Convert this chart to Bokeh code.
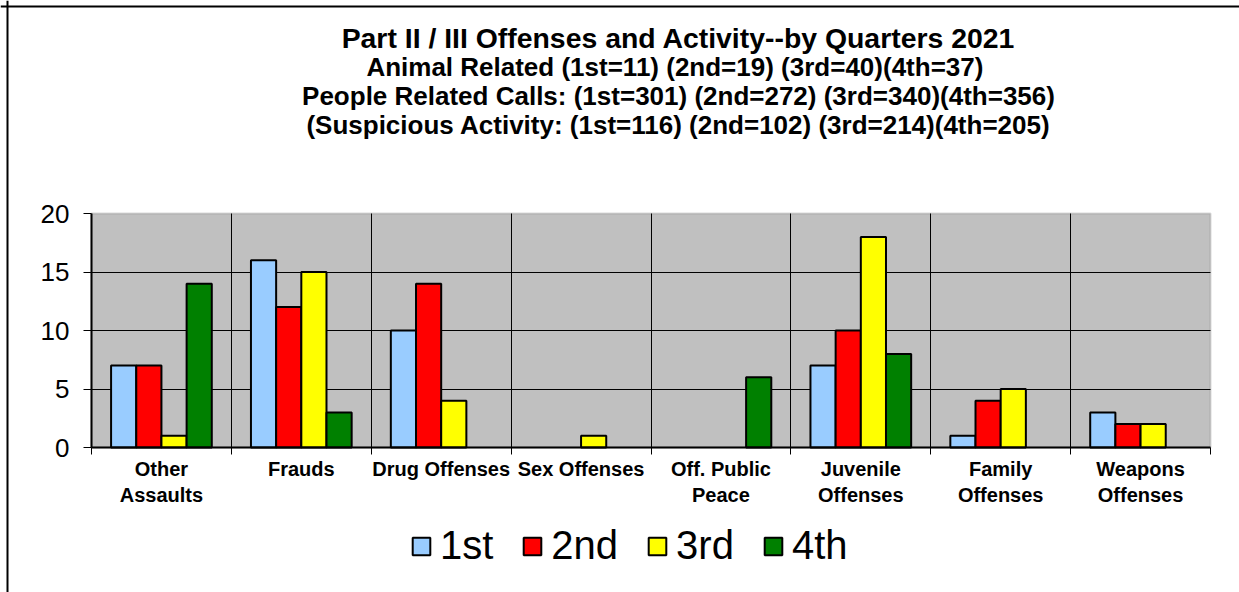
from bokeh.plotting import figure
from bokeh.models import (Range1d, FixedTicker, Legend, LegendItem, ColumnDataSource,
                          BoxAnnotation, Label, Span)
from bokeh.embed import file_html
from bokeh.resources import INLINE

categories = ["Other\nAssaults", "Frauds", "Drug Offenses", "Sex Offenses",
              "Off. Public\nPeace", "Juvenile\nOffenses", "Family\nOffenses", "Weapons\nOffenses"]
q1 = [7, 16, 10, 0, 0, 7, 1, 3]
q2 = [7, 12, 14, 0, 0, 10, 4, 2]
q3 = [1, 15, 4, 1, 0, 18, 5, 2]
q4 = [14, 3, 0, 0, 6, 8, 0, 0]
series = [q1, q2, q3, q4]
series_names = ["1st", "2nd", "3rd", "4th"]
colors = ["#99CCFF", "#FF0000", "#FFFF00", "#008000"]
y_ticks = [0, 5, 10, 15, 20]
title_lines = [
    "Part II / III Offenses and Activity--by Quarters 2021",
    "Animal Related  (1st=11) (2nd=19) (3rd=40)(4th=37)",
    "People Related Calls: (1st=301) (2nd=272) (3rd=340)(4th=356)",
    "(Suspicious Activity: (1st=116) (2nd=102) (3rd=214)(4th=205)",
]

FONT = "Liberation Sans"
n = len(categories)
bar_w = 0.18
W, H = 1239, 592
# pixel placement of the plotting box inside the canvas (layout only)
PX_L, PX_R, PX_T, PX_B = 91, 1210, 213, 447
ymin, ymax = y_ticks[0], y_ticks[-1]
xs_per_px = n / (PX_R - PX_L)
ys_per_px = (ymax - ymin) / (PX_B - PX_T)
x_lo = 0.5 - PX_L * xs_per_px
x_hi = n + 0.5 + (W - PX_R) * xs_per_px
y_lo = ymin - (H - PX_B) * ys_per_px
y_hi = ymax + PX_T * ys_per_px

p = figure(width=W, height=H, output_backend="svg", toolbar_location=None,
           x_range=Range1d(x_lo, x_hi), y_range=Range1d(y_lo, y_hi), title=None,
           min_border=0, min_border_left=0, min_border_right=0, min_border_top=0, min_border_bottom=0)
p.background_fill_color = "white"
p.border_fill_color = "white"
p.outline_line_color = None

p.add_layout(BoxAnnotation(left=0.5, right=n + 0.5, bottom=ymin, top=ymax,
                           fill_color="#C0C0C0", fill_alpha=1.0,
                           line_color="#808080", line_width=2, level="image"))

xg = p.xgrid[0]
yg = p.ygrid[0]
xg.ticker = FixedTicker(ticks=[i + 1.5 for i in range(n - 1)])
yg.ticker = FixedTicker(ticks=y_ticks[1:-1])
for g in (xg, yg):
    g.grid_line_color = "black"
    g.grid_line_width = 1
    g.level = "underlay"
has_cross = hasattr(xg, "cross_bounds")
if has_cross:
    xg.cross_bounds = (ymin, ymax)
    yg.cross_bounds = (0.5, n + 0.5)
else:
    xg.visible = False
    yg.visible = False
    bx = [i + 1.5 for i in range(n - 1)]
    p.segment(x0=bx, x1=bx, y0=[ymin] * len(bx), y1=[ymax] * len(bx), line_color="black", line_width=1)
    gy = y_ticks[1:-1]
    p.segment(x0=[0.5] * len(gy), x1=[n + 0.5] * len(gy), y0=gy, y1=gy, line_color="black", line_width=1)

renderers = []
for j, (vals, c) in enumerate(zip(series, colors)):
    xs = [i + 1 + (j - 1.5) * bar_w for i, v in enumerate(vals) if v > 0]
    tops = [v for v in vals if v > 0]
    src = ColumnDataSource(dict(x=xs, top=tops))
    r = p.vbar(x="x", top="top", bottom=0, width=bar_w, source=src,
               fill_color=c, line_color="black", line_width=2)
    renderers.append(r)

xa = p.xaxis[0]
xa.fixed_location = ymin
xa.bounds = (0.5, n + 0.5)
xa.ticker = FixedTicker(ticks=list(range(1, n + 1)), minor_ticks=[i + 0.5 for i in range(n + 1)])
xa.major_label_overrides = {i + 1: c for i, c in enumerate(categories)}
xa.major_tick_line_color = None
xa.major_tick_out = 0
xa.major_tick_in = 0
xa.minor_tick_out = 7
xa.minor_tick_in = 0
xa.minor_tick_line_color = "black"
xa.minor_tick_line_width = 1
xa.axis_line_color = "black"
xa.axis_line_width = 2
xa.major_label_text_font = FONT
xa.major_label_text_font_style = "bold"
xa.major_label_text_font_size = "20px"
xa.major_label_text_line_height = 1.2
xa.major_label_standoff = 3
xa.major_label_text_color = "black"

ya = p.yaxis[0]
ya.fixed_location = 0.5
ya.bounds = (ymin, ymax)
ya.ticker = FixedTicker(ticks=y_ticks)
ya.minor_tick_line_color = None
ya.major_tick_out = 8
ya.major_tick_in = 0
ya.major_tick_line_color = "black"
ya.major_tick_line_width = 1
ya.axis_line_color = "black"
ya.axis_line_width = 2
ya.major_label_text_font = FONT
ya.major_label_text_font_size = "26px"
ya.major_label_standoff = 14
ya.major_label_text_color = "black"

legend = Legend(items=[LegendItem(label=nm, renderers=[r]) for nm, r in zip(series_names, renderers)],
                orientation="horizontal", location=(410, H - 568),
                glyph_width=22, glyph_height=22, label_text_font=FONT,
                label_text_font_size="40px", label_text_color="black",
                padding=0, margin=0, spacing=28,
                label_standoff=8, border_line_color=None, background_fill_alpha=0)
p.add_layout(legend, "center")

title_sizes = ["28.4px", "26px", "26px", "26px"]
for txt, base, fs in zip(title_lines, [37, 66, 95, 124], title_sizes):
    p.add_layout(Label(x=678, y=H - base, x_units="screen", y_units="screen", text=txt,
                       text_align="center", text_baseline="alphabetic",
                       text_font=FONT, text_font_style="bold", text_font_size=fs,
                       text_color="black"))

# outer chart border (left and top edges)
p.add_layout(Span(location=7, location_units="screen", dimension="height",
                  line_color="black", line_width=2))
p.add_layout(Span(location=H - 6, location_units="screen", dimension="width",
                  line_color="black", line_width=2))

open("out.html", "w").write(file_html(p, INLINE))
